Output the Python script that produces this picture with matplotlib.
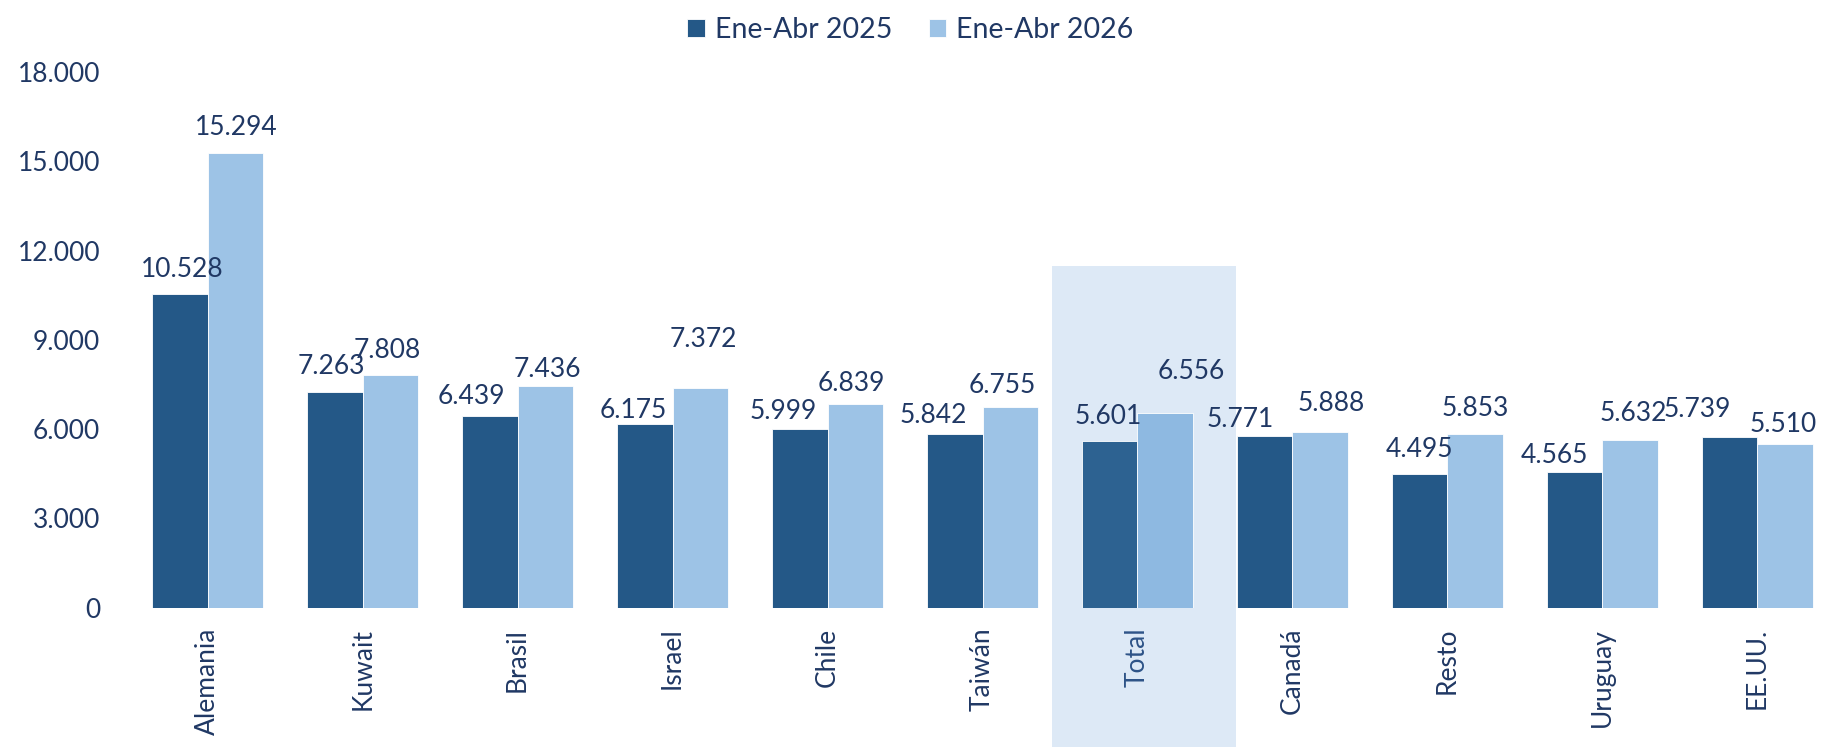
import numpy as np
import matplotlib
matplotlib.use('Agg')
import matplotlib.pyplot as plt
from matplotlib.patches import Rectangle
from matplotlib.ticker import FuncFormatter

plt.rcParams['font.family'] = ['Lato', 'DejaVu Sans']

paises = ['Alemania', 'Kuwait', 'Brasil', 'Israel', 'Chile', 'Taiwán', 'Total',
          'Canadá', 'Resto', 'Uruguay', 'EE.UU.']
ene_abr_2025 = [10528, 7263, 6439, 6175, 5999, 5842, 5601, 5771, 4495, 4565, 5739]
ene_abr_2026 = [15294, 7808, 7436, 7372, 6839, 6755, 6556, 5888, 5853, 5632, 5510]
serie_labels = ['Ene-Abr 2025', 'Ene-Abr 2026']
y_ticks = [0, 3000, 6000, 9000, 12000, 15000, 18000]

# where the value labels sit, in pixels (dx from bar centre, gap above bar top)
dx_25 = [2, -4, -19, -12, -17, -22, -2, -25, 0, -20, -32]
gap_25 = [28, 28, 23, 17, 21, 22, 28, 20, 28, 20, 31]
dx_26 = [1, -3, 2, 3, -4, -8, 26, 11, 0, 3, -2]
gap_26 = [28, 28, 20, 52, 24, 25, 44, 32, 28, 30, 23]

DARK = '#245887'
LIGHT = '#9dc3e6'
TXT = '#203864'
FS = 19
i_total = paises.index('Total')


def miles(v, pos=None):
    return '{:,.0f}'.format(v).replace(',', '.')


fig = plt.figure(figsize=(18.21, 7.47), dpi=100)
ax = fig.add_axes([130.2 / 1821, (747 - 607.7) / 747, 1704.6 / 1821, (607.7 - 72) / 747])

x = np.arange(len(paises))
w = 0.357
col25 = [DARK] * len(paises)
col26 = [LIGHT] * len(paises)
col25[i_total] = '#2d6291'
col26[i_total] = '#8eb9e1'

# highlight behind the Total group
ax.add_patch(Rectangle((i_total - 0.55, -6000), 1.185, 11494 + 6000,
                       facecolor='#dde9f6', edgecolor='none', zorder=0, clip_on=False))

b1 = ax.bar(x - w / 2, ene_abr_2025, w, color=col25, edgecolor='white', linewidth=0.6, zorder=2)
b2 = ax.bar(x + w / 2, ene_abr_2026, w, color=col26, edgecolor='white', linewidth=0.6, zorder=2)

half_digit = 10.85
for i in range(len(paises)):
    ax.annotate(miles(ene_abr_2025[i]), (x[i] - w / 2, ene_abr_2025[i]),
                xytext=(dx_25[i] * 0.72, (gap_25[i] - half_digit) * 0.72),
                textcoords='offset points', ha='center', va='baseline',
                fontsize=FS, color=TXT, zorder=3)
    ax.annotate(miles(ene_abr_2026[i]), (x[i] + w / 2, ene_abr_2026[i]),
                xytext=(dx_26[i] * 0.72, (gap_26[i] - half_digit) * 0.72),
                textcoords='offset points', ha='center', va='baseline',
                fontsize=FS, color=TXT, zorder=3)

ax.set_xlim(-0.5, 10.5)
ax.set_ylim(0, 18000)
ax.set_xticks(x)
ax.set_xticklabels(paises, rotation=90)
ax.set_yticks(y_ticks)
ax.yaxis.set_major_formatter(FuncFormatter(miles))
ax.tick_params(axis='x', length=0, pad=14.4, labelsize=FS, labelcolor=TXT)
ax.tick_params(axis='y', length=0, pad=21.6, labelsize=FS, labelcolor=TXT)
ax.get_xticklabels()[i_total].set_color('#2d5387')
for s in ax.spines.values():
    s.set_visible(False)

ax.legend([b1, b2], serie_labels, loc='center',
          bbox_to_anchor=(0.5, 1 - 29.7 / 747), bbox_transform=fig.transFigure,
          ncol=2, frameon=False, handlelength=0.6, handleheight=0.6,
          handletextpad=0.35, columnspacing=1.31, fontsize=20.5, labelcolor=TXT)

fig.savefig('out.png', dpi=100)
